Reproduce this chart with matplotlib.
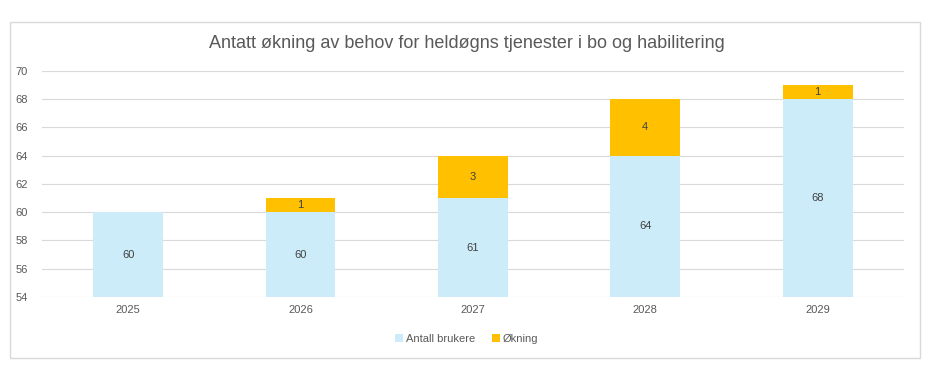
import numpy as np
import matplotlib.pyplot as plt
from matplotlib.patches import Rectangle

years = ['2025', '2026', '2027', '2028', '2029']
brukere = [60, 60, 61, 64, 68]
okning = [0, 1, 3, 4, 1]

base_col = '#CCECFA'
inc_col = '#FFC000'
txt = '#595959'

plt.rcParams['font.family'] = ['Liberation Sans', 'DejaVu Sans']

fig = plt.figure(figsize=(9.43, 3.67), dpi=100)
ax = fig.add_axes([0.0445, 0.1907, 0.914, 0.616])

# chart border
fig.patches.append(Rectangle((10/943, 1 - 358/367), 910/943, 336/367,
                             transform=fig.transFigure, fill=False,
                             edgecolor='#D9D9D9', lw=1))

x = np.arange(len(years))
w = 0.405
bottom = 54
b1 = ax.bar(x, np.array(brukere) - bottom, w, bottom=bottom, color=base_col,
            label='Antall brukere', zorder=2)
b2 = ax.bar(x, okning, w, bottom=brukere, color=inc_col, label='Økning', zorder=2)

for i in range(len(years)):
    ax.text(x[i], (bottom + brukere[i]) / 2, str(brukere[i]), ha='center',
            va='center', fontsize=8, color='#404040')
    if okning[i] > 0:
        ax.text(x[i], brukere[i] + okning[i] / 2, str(okning[i]), ha='center',
                va='center', fontsize=8, color='#404040')

ax.set_xlim(-0.5, len(years) - 0.5)
ax.set_ylim(54, 70)
ax.set_yticks(range(54, 71, 2))
ax.set_xticks(x)
ax.set_xticklabels(years)
ax.tick_params(axis='both', length=0, labelsize=8, colors=txt)
ax.tick_params(axis='y', pad=10)
ax.tick_params(axis='x', pad=6)
ax.grid(axis='y', color='#D9D9D9', lw=0.8, zorder=0)
for s in ax.spines.values():
    s.set_visible(False)

fig.text(0.495, 1 - 44/367, 'Antatt økning av behov for heldøgns tjenester i bo og habilitering',
         ha='center', va='center', fontsize=13, color=txt)

fig.legend(handles=[b1, b2], loc='center', bbox_to_anchor=(0.495, 1 - 339/367),
           ncol=2, frameon=False, fontsize=8, labelcolor=txt,
           handlelength=0.7, handleheight=0.7, handletextpad=0.3, columnspacing=1.5)

fig.savefig('out.png', dpi=100)
